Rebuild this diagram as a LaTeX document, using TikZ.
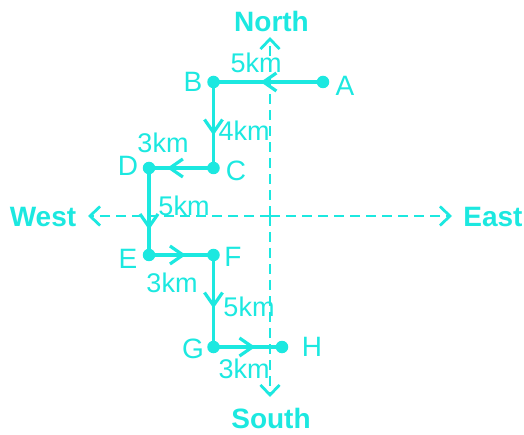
\documentclass[tikz,border=0pt]{standalone}
\usepackage{fontspec}
\setmainfont{Liberation Sans}
\usetikzlibrary{arrows.meta,decorations.markings}
\definecolor{cy}{RGB}{28,232,224}
\tikzset{
  pathline/.style={cy, line width=3.2pt},
  dot/.style={circle, fill=cy, inner sep=0pt, minimum size=12.5pt},
  axisline/.style={cy, line width=2.8pt, dash pattern=on 10pt off 6pt, -{Straight Barb[length=10pt,width=19pt,line width=2.8pt]}},
  midarrow/.style={postaction={decorate, decoration={markings, mark=at position #1 with {\arrow{Straight Barb[length=13pt,width=18pt,line width=3.2pt]}}}}},
  ptlabel/.style={text=cy, font=\fontsize{28}{30}\selectfont, inner sep=0pt},
  dirlabel/.style={text=cy, font=\fontsize{28}{30}\selectfont\bfseries, inner sep=0pt},
  dist/.style={text=cy, font=\fontsize{27}{30}\selectfont, inner sep=0pt},
}
\begin{document}
\begin{tikzpicture}[x=1pt,y=-1pt]
\useasboundingbox (0,0) rectangle (524,435);
% axes
\coordinate (O) at (270,216);
\coordinate (Ntip) at (270,37);
\coordinate (Stip) at (270,397);
\coordinate (Wtip) at (88,216);
\coordinate (Etip) at (452,216);
\draw[axisline] (O) -- (Ntip);
\draw[axisline] (O) -- (Stip);
\draw[axisline] (O) -- (Wtip);
\draw[axisline] (O) -- (Etip);
\node[dirlabel] (north) at (271.5,21) {North};
\node[dirlabel] (south) at (271,418) {South};
\node[dirlabel] (west) at (43,217) {West};
\node[dirlabel] (east) at (493,217) {East};
% points
\node[dot] (A) at (323,82) {};
\node[dot] (B) at (213.5,82) {};
\node[dot] (C) at (213.5,168) {};
\node[dot] (D) at (149,168) {};
\node[dot] (E) at (149,255) {};
\node[dot] (F) at (213.5,255) {};
\node[dot] (G) at (213.5,347) {};
\node[dot] (H) at (282,347) {};
% route
\draw[pathline, midarrow=0.57] (A.center) -- (B.center);
\draw[pathline, midarrow=0.62] (B.center) -- (C.center);
\draw[pathline, midarrow=0.72] (C.center) -- (D.center);
\draw[pathline, midarrow=0.71] (D.center) -- (E.center);
\draw[pathline, midarrow=0.57] (E.center) -- (F.center);
\draw[pathline, midarrow=0.58] (F.center) -- (G.center);
\draw[pathline, midarrow=0.61] (G.center) -- (H.center);
% point labels
\node[ptlabel] (lA) at (345,86) {A};
\node[ptlabel] (lB) at (193,82) {B};
\node[ptlabel] (lC) at (236,171) {C};
\node[ptlabel] (lD) at (128,166) {D};
\node[ptlabel] (lE) at (128,259) {E};
\node[ptlabel] (lF) at (233,257) {F};
\node[ptlabel] (lG) at (193,349) {G};
\node[ptlabel] (lH) at (312,347) {H};
% distances
\node[dist] (dAB) at (256,63) {5km};
\node[dist] (dBC) at (244,131) {4km};
\node[dist] (dCD) at (163,143) {3km};
\node[dist] (dDE) at (184,206) {5km};
\node[dist] (dEF) at (172,283) {3km};
\node[dist] (dFG) at (249,307) {5km};
\node[dist] (dGH) at (244,369) {3km};
\end{tikzpicture}
\end{document}
